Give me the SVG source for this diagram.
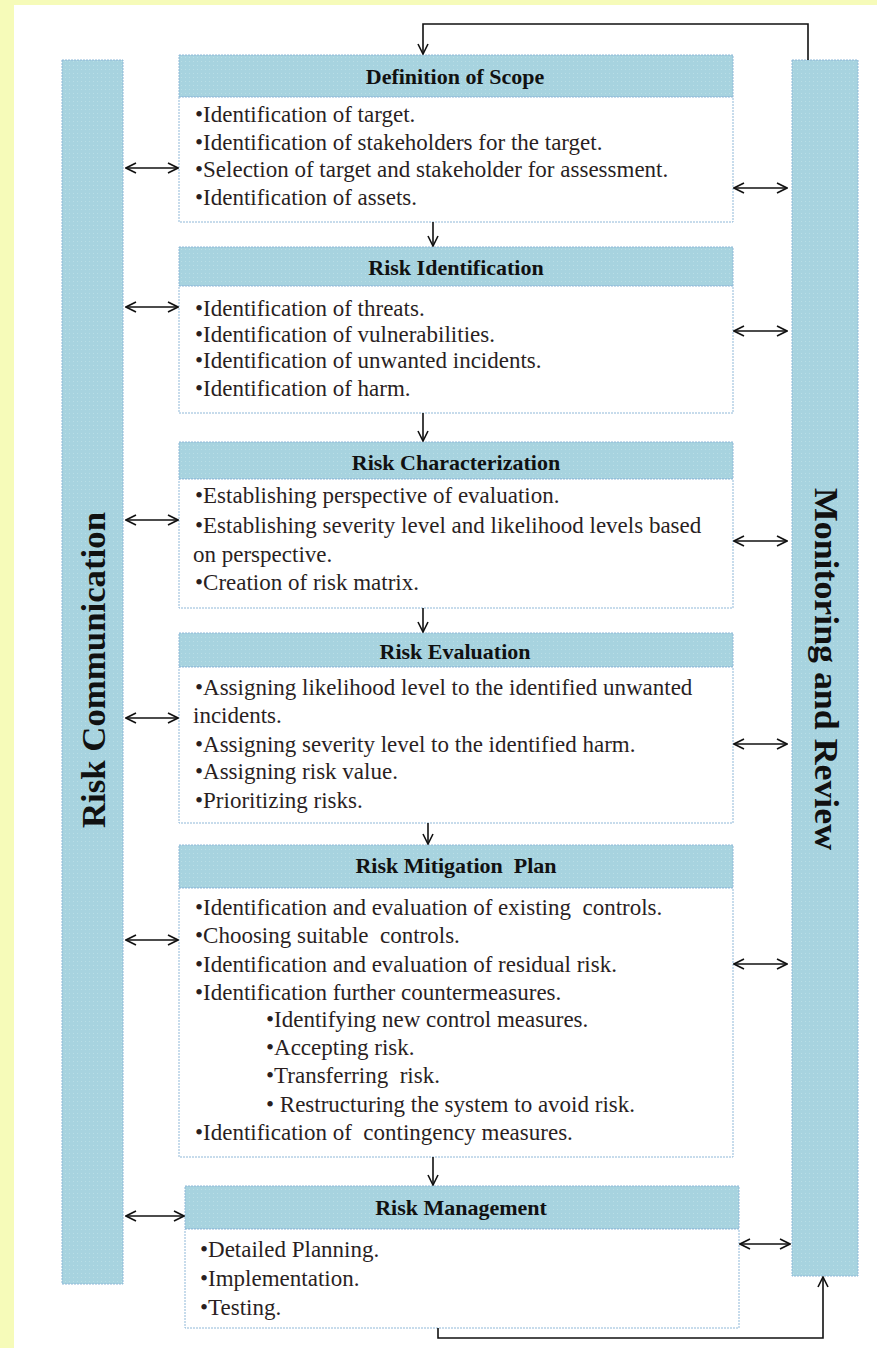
<svg xmlns="http://www.w3.org/2000/svg" width="877" height="1348" viewBox="0 0 877 1348">
<defs>
<pattern id="dots" width="4" height="4" patternUnits="userSpaceOnUse">
<rect width="4" height="4" fill="#a7d3df"/>
<rect x="1" y="1" width="1" height="1" fill="#b9dee6"/>
</pattern>
<marker id="ah" viewBox="0 0 12 12" refX="11" refY="6" markerWidth="12" markerHeight="12" markerUnits="userSpaceOnUse" orient="auto-start-reverse">
<path d="M1,1 L11,6 L1,11" fill="none" stroke="#111" stroke-width="1.6"/>
</marker>
</defs>
<style>
.bar{fill:url(#dots);stroke:#8fb8d8;stroke-width:1;stroke-dasharray:2 1}
.hdr{fill:url(#dots);stroke:#8fb8d8;stroke-width:1;stroke-dasharray:2 1}
.body{fill:#fff;stroke:#8fb8d8;stroke-width:1;stroke-dasharray:2 1}
.ht{font-family:"Liberation Serif",serif;font-weight:bold;font-size:22px;fill:#111;text-anchor:middle}
.bt{font-family:"Liberation Serif",serif;font-size:23px;fill:#2a1f1f}
.vt{font-family:"Liberation Serif",serif;font-weight:bold;font-size:34px;fill:#111;text-anchor:middle}
.c{fill:none;stroke:#111;stroke-width:1.6}
</style>
<rect width="877" height="1348" fill="#fff"/>
<rect x="0" y="0" width="877" height="5" fill="#f6fbb9"/>
<rect x="0" y="0" width="14" height="1348" fill="#f6fbb9"/>

<g id="risk-communication">
<rect class="bar" x="62" y="60" width="61" height="1224"/>
<text class="vt" transform="translate(105,670) rotate(-90)" textLength="316" lengthAdjust="spacingAndGlyphs">Risk Communication</text>
</g>
<g id="monitoring-review">
<rect class="bar" x="792" y="60" width="66" height="1216"/>
<text class="vt" transform="translate(815,669) rotate(90)" textLength="362" lengthAdjust="spacingAndGlyphs">Monitoring and Review</text>
</g>

<g id="definition-of-scope">
<rect class="hdr" x="179" y="55" width="554" height="42"/>
<rect class="body" x="179" y="97" width="554" height="125"/>
<text class="ht" x="455" y="84">Definition of Scope</text>
<text class="bt" x="195" y="122">•Identification of target.</text>
<text class="bt" x="195" y="150">•Identification of stakeholders for the target.</text>
<text class="bt" x="195" y="177">•Selection of target and stakeholder for assessment.</text>
<text class="bt" x="195" y="205">•Identification of assets.</text>
</g>

<g id="risk-identification">
<rect class="hdr" x="179" y="247" width="554" height="39"/>
<rect class="body" x="179" y="286" width="554" height="127"/>
<text class="ht" x="456" y="275">Risk Identification</text>
<text class="bt" x="195" y="316">•Identification of threats.</text>
<text class="bt" x="195" y="342">•Identification of vulnerabilities.</text>
<text class="bt" x="195" y="368">•Identification of unwanted incidents.</text>
<text class="bt" x="195" y="396">•Identification of harm.</text>
</g>

<g id="risk-characterization">
<rect class="hdr" x="179" y="442" width="554" height="37"/>
<rect class="body" x="179" y="479" width="554" height="129"/>
<text class="ht" x="456" y="470">Risk Characterization</text>
<text class="bt" x="195" y="503">•Establishing perspective of evaluation.</text>
<text class="bt" x="195" y="533">•Establishing severity level and likelihood levels based</text>
<text class="bt" x="193" y="562">on perspective.</text>
<text class="bt" x="195" y="590">•Creation of risk matrix.</text>
</g>

<g id="risk-evaluation">
<rect class="hdr" x="179" y="633" width="554" height="34"/>
<rect class="body" x="179" y="667" width="554" height="156"/>
<text class="ht" x="455" y="659">Risk Evaluation</text>
<text class="bt" x="195" y="695">•Assigning likelihood level to the identified unwanted</text>
<text class="bt" x="193" y="723">incidents.</text>
<text class="bt" x="195" y="752">•Assigning severity level to the identified harm.</text>
<text class="bt" x="195" y="779">•Assigning risk value.</text>
<text class="bt" x="195" y="808">•Prioritizing risks.</text>
</g>

<g id="risk-mitigation-plan">
<rect class="hdr" x="179" y="845" width="554" height="43"/>
<rect class="body" x="179" y="888" width="554" height="269"/>
<text class="ht" x="456" y="873" xml:space="preserve">Risk Mitigation  Plan</text>
<text class="bt" x="195" y="915" xml:space="preserve">•Identification and evaluation of existing  controls.</text>
<text class="bt" x="195" y="943" xml:space="preserve">•Choosing suitable  controls.</text>
<text class="bt" x="195" y="972">•Identification and evaluation of residual risk.</text>
<text class="bt" x="195" y="1000">•Identification further countermeasures.</text>
<text class="bt" x="266" y="1027">•Identifying new control measures.</text>
<text class="bt" x="266" y="1055">•Accepting risk.</text>
<text class="bt" x="266" y="1083" xml:space="preserve">•Transferring  risk.</text>
<text class="bt" x="266" y="1112">• Restructuring the system to avoid risk.</text>
<text class="bt" x="195" y="1140" xml:space="preserve">•Identification of  contingency measures.</text>
</g>

<g id="risk-management">
<rect class="hdr" x="185" y="1186" width="554" height="43"/>
<rect class="body" x="185" y="1229" width="554" height="99"/>
<text class="ht" x="461" y="1215">Risk Management</text>
<text class="bt" x="200" y="1257">•Detailed Planning.</text>
<text class="bt" x="200" y="1286">•Implementation.</text>
<text class="bt" x="200" y="1315">•Testing.</text>
</g>

<g id="connectors">
<path class="c" d="M808,60 V24 H423 V54" marker-end="url(#ah)"/>
<path class="c" d="M438,1328 V1338 H823 V1277" marker-end="url(#ah)"/>
<path class="c" d="M433,222 V246" marker-end="url(#ah)"/>
<path class="c" d="M423,413 V441" marker-end="url(#ah)"/>
<path class="c" d="M423,608 V632" marker-end="url(#ah)"/>
<path class="c" d="M428,823 V844" marker-end="url(#ah)"/>
<path class="c" d="M433,1157 V1185" marker-end="url(#ah)"/>
<path class="c" d="M126,168 H178" marker-start="url(#ah)" marker-end="url(#ah)"/>
<path class="c" d="M126,307 H178" marker-start="url(#ah)" marker-end="url(#ah)"/>
<path class="c" d="M126,520 H178" marker-start="url(#ah)" marker-end="url(#ah)"/>
<path class="c" d="M126,718 H178" marker-start="url(#ah)" marker-end="url(#ah)"/>
<path class="c" d="M126,940 H178" marker-start="url(#ah)" marker-end="url(#ah)"/>
<path class="c" d="M126,1216 H184" marker-start="url(#ah)" marker-end="url(#ah)"/>
<path class="c" d="M734,188 H787" marker-start="url(#ah)" marker-end="url(#ah)"/>
<path class="c" d="M734,331 H787" marker-start="url(#ah)" marker-end="url(#ah)"/>
<path class="c" d="M734,541 H787" marker-start="url(#ah)" marker-end="url(#ah)"/>
<path class="c" d="M734,744 H787" marker-start="url(#ah)" marker-end="url(#ah)"/>
<path class="c" d="M734,964 H787" marker-start="url(#ah)" marker-end="url(#ah)"/>
<path class="c" d="M740,1244 H790" marker-start="url(#ah)" marker-end="url(#ah)"/>
</g>
</svg>
